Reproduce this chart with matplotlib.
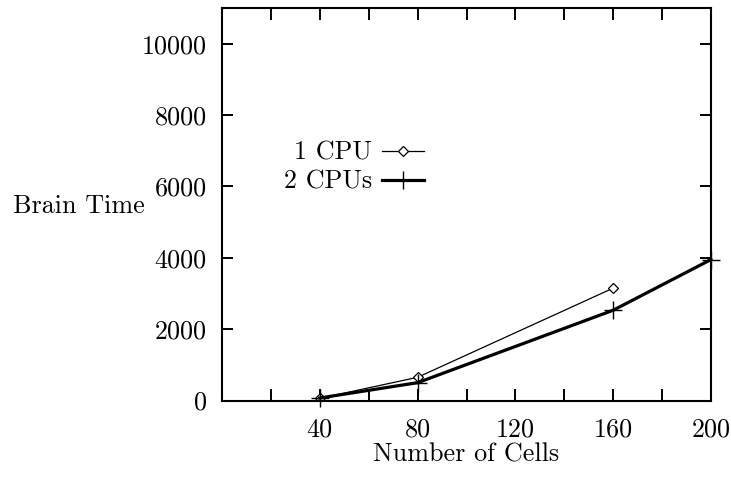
import matplotlib
matplotlib.use("Agg")
import matplotlib.pyplot as plt

# ------------------------------------------------------------
# data
# ------------------------------------------------------------
CELLS_1CPU = [40, 80, 160]
TIME_1CPU = [60, 650, 3150]

CELLS_2CPU = [40, 80, 160, 200]
TIME_2CPU = [70, 500, 2530, 3950]

X_TICKS = [40, 80, 120, 160, 200]
X_TICK_LABELS = ["40", "80", "120", "160", "200"]
X_MINOR_TICKS = [20, 60, 100, 140, 180]
Y_TICKS = [0, 2000, 4000, 6000, 8000, 10000]
Y_TICK_LABELS = ["0", "2000", "4000", "6000", "8000", "10000"]

plt.rcParams.update({
    'font.family': 'serif',
    'font.serif': ['cmr10'],
    'font.size': 18.8,
    'axes.formatter.use_mathtext': True,
})

fig = plt.figure(figsize=(7.31, 4.78), dpi=100)
ax = fig.add_axes([222 / 731, 1 - 400.5 / 478, 489 / 731, 392.5 / 478])

ax.plot(CELLS_1CPU, TIME_1CPU, color='black', linewidth=0.9,
        marker='D', markersize=5.5, markerfacecolor='white',
        markeredgecolor='black', markeredgewidth=0.9, label='1 CPU')
ax.plot(CELLS_2CPU, TIME_2CPU, color='black', linewidth=2.3,
        marker='+', markersize=12.5, markeredgewidth=1.0,
        label='2 CPUs', clip_on=False)

ax.set_xlim(0, 200)
ax.set_ylim(0, 11000)

ax.set_xticks(X_TICKS)
ax.set_xticklabels(X_TICK_LABELS)
ax.set_xticks(X_MINOR_TICKS, minor=True)
ax.set_yticks(Y_TICKS)
ax.set_yticklabels(Y_TICK_LABELS)

ax.tick_params(axis='x', which='both', direction='in', length=8.6, width=1.4,
               pad=12.2, top=True, bottom=True)
ax.tick_params(axis='y', direction='in', length=8, width=1.4, pad=11,
               left=True, right=True)

for sp in ax.spines.values():
    sp.set_linewidth(1.5)

# keep the axis title clear of the tick labels
ax.set_xlabel('Number of Cells', va='baseline')
ax.xaxis.set_label_coords(0.5, (400.5 - 461.5) / 392.5)
ax.set_ylabel('Brain Time', rotation=0, ha='right', va='baseline')
ax.yaxis.set_label_coords((145 - 222) / 489, (400.5 - 213) / 392.5)

ax.legend(loc='center right', bbox_to_anchor=((424 - 222) / 489, (400.5 - 167.5) / 392.5),
          markerfirst=False, frameon=False, borderpad=0, borderaxespad=0,
          handlelength=1.6, handletextpad=0.4, labelspacing=0.2)

fig.savefig('out.png', dpi=100, facecolor='white')
